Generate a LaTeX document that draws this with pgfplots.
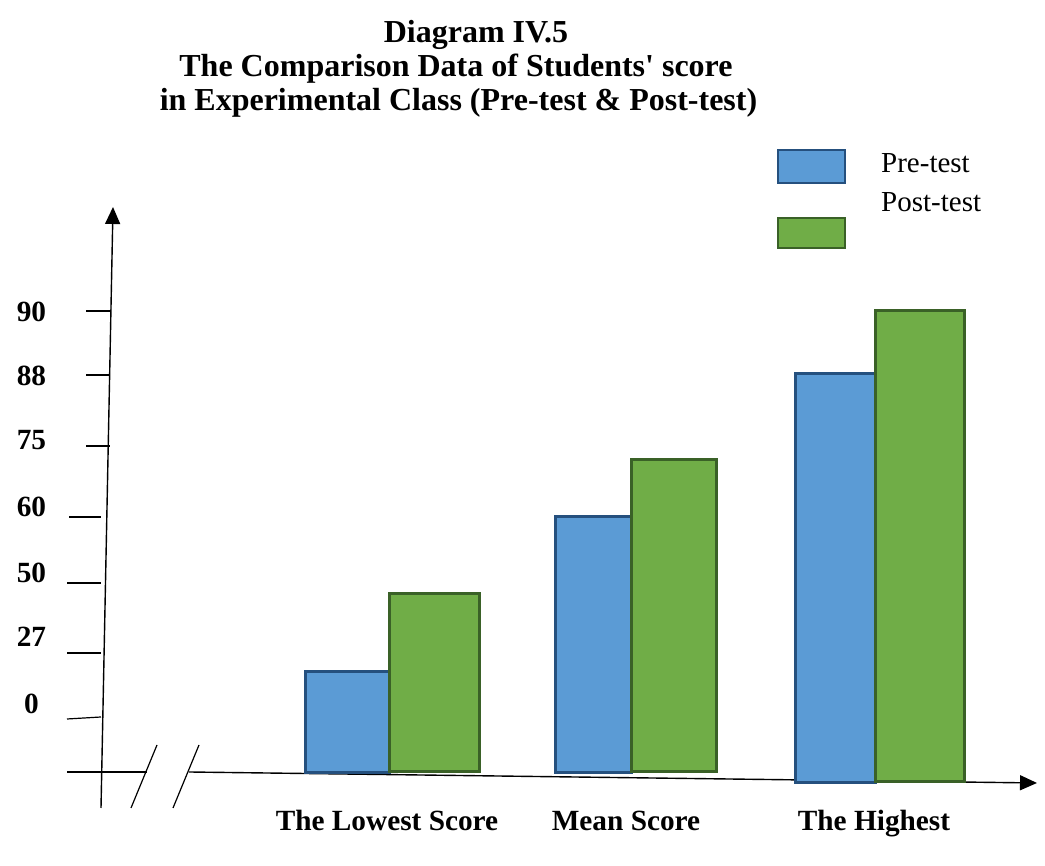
\documentclass[border=0pt]{standalone}
\usepackage{pgfplots}
\pgfplotsset{compat=1.18}
\usepackage{fontspec}
\setmainfont{Liberation Serif}
\usetikzlibrary{arrows.meta}

\definecolor{preFill}{HTML}{5B9BD5}
\definecolor{preEdge}{HTML}{25507E}
\definecolor{postFill}{HTML}{70AD47}
\definecolor{postEdge}{HTML}{3A6127}

% straight typewriter apostrophe, set without the TeX quote mapping
\newcommand{\straightquote}{\XeTeXglyph\XeTeXcharglyph"0027\relax}

\tikzset{
  axisline/.style={line width=1.4pt, black},
  tickline/.style={line width=1.2pt, black},
  headtip/.style={-{Triangle[length=17pt,width=15pt]}},
  pre/.style={fill=preFill, draw=preEdge, line width=3pt, line join=miter},
  post/.style={fill=postFill, draw=postEdge, line width=3pt, line join=miter},
  ylab/.style={font=\bfseries\fontsize{29.3}{34}\selectfont, anchor=base, inner sep=0pt},
  catlab/.style={font=\bfseries\fontsize{29.3}{34}\selectfont, anchor=base, inner sep=0pt},
  leglab/.style={font=\fontsize{29}{34}\selectfont, anchor=base west, inner sep=0pt},
  ttl/.style={font=\bfseries\fontsize{32}{38}\selectfont, anchor=base, inner sep=0pt},
}

\begin{document}
\begin{tikzpicture}
\begin{axis}[
  width=1045pt, height=866pt, scale only axis,
  xmin=0, xmax=1045, ymin=-94, ymax=772,
  hide axis, clip=false,
]
\path (axis cs:0,-94) rectangle (axis cs:1045,772);

% title
\node[ttl] at (axis cs:476,729) {Diagram IV.5};
\node[ttl] at (axis cs:456,695) {The Comparison Data of Students\straightquote{} score};
\node[ttl] at (axis cs:458.5,661) {in Experimental Class (Pre-test \& Post-test)};

% vertical axis with its tick strokes
\draw[axisline, headtip] (axis cs:101,-36) -- (axis cs:113,565);
\draw[tickline] (axis cs:86,461) -- (axis cs:110,461);
\draw[tickline] (axis cs:86,397) -- (axis cs:110,397);
\draw[tickline] (axis cs:86,326) -- (axis cs:110,326);
\draw[tickline] (axis cs:69,255) -- (axis cs:101,255);
\draw[tickline] (axis cs:67,189) -- (axis cs:101,189);
\draw[tickline] (axis cs:67,119) -- (axis cs:101,119);
\draw[tickline] (axis cs:67,53) -- (axis cs:101,55);

\node[ylab] at (axis cs:31.5,450) {90};
\node[ylab] at (axis cs:31.5,386) {88};
\node[ylab] at (axis cs:31.5,322) {75};
\node[ylab] at (axis cs:31.5,255) {60};
\node[ylab] at (axis cs:31.5,189) {50};
\node[ylab] at (axis cs:31.5,125) {27};
\node[ylab] at (axis cs:31.5,58) {0};

% horizontal axis, broken near the origin
\draw[axisline] (axis cs:67,0) -- (axis cs:147,0);
\draw[axisline, headtip] (axis cs:189,0) -- (axis cs:1037,-11);
\draw[tickline] (axis cs:157,27) -- (axis cs:131,-36);
\draw[tickline] (axis cs:199,27) -- (axis cs:173,-36);

% bars: Pre-test
\addplot[pre] coordinates {(305,-1) (305,100) (389,100) (389,-1)} -- cycle;
\addplot[pre] coordinates {(555,-1) (555,255) (631,255) (631,-1)} -- cycle;
\addplot[pre] coordinates {(795,-11) (795,398) (875,398) (875,-11)} -- cycle;
% bars: Post-test
\addplot[post] coordinates {(389,0) (389,178) (479,178) (479,0)} -- cycle;
\addplot[post] coordinates {(631,0) (631,312) (716,312) (716,0)} -- cycle;
\addplot[post] coordinates {(875,-10) (875,461) (964,461) (964,-10)} -- cycle;

% category names
\node[catlab] at (axis cs:387,-59) {The Lowest Score};
\node[catlab] at (axis cs:626,-59) {Mean Score};
\node[catlab] at (axis cs:874,-59) {The Highest};

% legend
\draw[pre, line width=2.6pt] (axis cs:778,622) rectangle (axis cs:845,589);
\draw[post, line width=2.6pt] (axis cs:778,554) rectangle (axis cs:845,524);
\node[leglab] at (axis cs:881,599) {Pre-test};
\node[leglab] at (axis cs:881,560) {Post-test};
\end{axis}
\end{tikzpicture}
\end{document}
